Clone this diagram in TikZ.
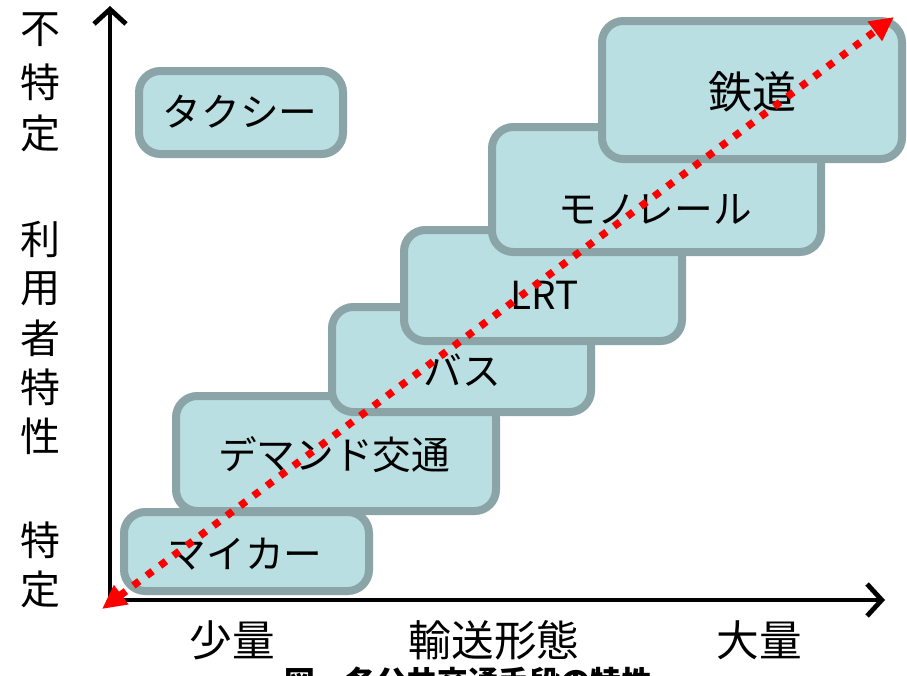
\documentclass[tikz,border=0pt]{standalone}
\usepackage{fontspec}
\setmainfont{Noto Sans CJK JP}
\usetikzlibrary{arrows.meta}
\definecolor{boxfill}{HTML}{B9DFE2}
\definecolor{boxline}{HTML}{8AA4A7}
\definecolor{dotred}{HTML}{FF0000}
\tikzset{
  modebox/.style={draw=boxline, fill=boxfill, line width=6pt, rounded corners=16pt},
  lab/.style={inner sep=0pt, font=\fontsize{29pt}{29pt}\selectfont},
  biglab/.style={inner sep=0pt, font=\fontsize{33pt}{33pt}\selectfont},
  axlab/.style={inner sep=0pt, font=\fontsize{30pt}{30pt}\selectfont},
  botlab/.style={inner sep=0pt, font=\fontsize{32pt}{32pt}\selectfont},
  axis/.style={line width=3.6pt, -{Straight Barb[length=11pt, width=24pt, line width=3.6pt]}},
  trend/.style={dotred, line width=5.5pt, dash pattern=on 5.5pt off 7pt,
    {Triangle[length=18pt, width=17pt]}-{Triangle[length=18pt, width=17pt]}}
}
\begin{document}
\begin{tikzpicture}[x=0.75pt, y=-0.75pt]
\path[use as bounding box, clip] (0,0) rectangle (907,675);
\fill[white] (0,0) rectangle (907,675);

% boxes, bottom to top
\draw[modebox] (124,512) rectangle (369,591);
\node[lab] (car) at (245,554) {マイカー};
\draw[modebox] (176,396) rectangle (496,511);
\node[lab] (demand) at (334,455) {デマンド交通};
\draw[modebox] (332,307) rectangle (591,412);
\node[lab] (bus) at (462,370) {バス};
\draw[modebox] (404,230) rectangle (682,341);
\node[lab] (lrt) at (545,295) {LRT};
\draw[modebox] (492,127) rectangle (821,252);
\node[lab] (mono) at (655,209) {モノレール};
\draw[modebox] (602,21) rectangle (902,159);
\node[biglab] (rail) at (752,92) {鉄道};
\draw[modebox] (139,71) rectangle (343,154);
\node[lab] (taxi) at (240,112) {タクシー};

% axes
\coordinate (origin) at (110,602);
\coordinate (ytop) at (110,6);
\coordinate (xorigin) at (108,600);
\coordinate (xend) at (885,600);
\draw[axis] (origin) -- (ytop);
\draw[axis] (xorigin) -- (xend);

% trend arrow
\coordinate (tlow) at (102,609);
\coordinate (thigh) at (894,17);
\draw[trend] (tlow) -- (thigh);

% vertical axis labels
\node[axlab] (v1) at (40,30) {不};
\node[axlab] (v2) at (40,82) {特};
\node[axlab] (v3) at (40,133) {定};
\node[axlab] (v4) at (40,239) {利};
\node[axlab] (v5) at (40,289) {用};
\node[axlab] (v6) at (40,338) {者};
\node[axlab] (v7) at (40,387) {特};
\node[axlab] (v8) at (40,436) {性};
\node[axlab] (v9) at (40,540) {特};
\node[axlab] (v10) at (40,589) {定};

% horizontal axis labels
\node[botlab] (few) at (232,640) {少量};
\node[botlab] (mode) at (494,640) {輸送形態};
\node[botlab] (many) at (759,640) {大量};

% caption (cut off at bottom, as in the reference)
\node[inner sep=0pt, font=\bfseries\fontsize{23pt}{23pt}\selectfont] (cap) at (468,682) {図　各公共交通手段の特性};
\end{tikzpicture}
\end{document}
